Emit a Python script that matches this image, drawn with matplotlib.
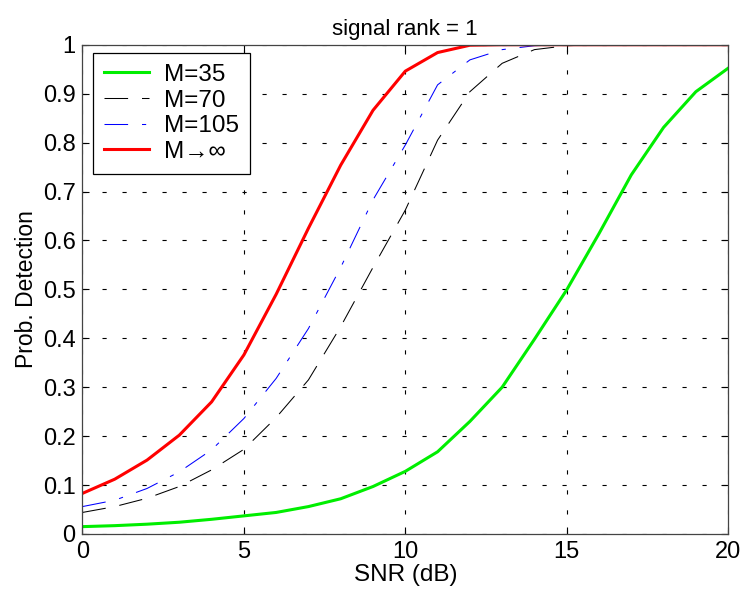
import matplotlib
matplotlib.use("Agg")
import matplotlib.pyplot as plt

plt.rcParams['font.family'] = ['Liberation Sans', 'DejaVu Sans']
plt.rcParams['lines.scale_dashes'] = False

snr = list(range(0, 21))
m35 = [0.015, 0.017, 0.020, 0.024, 0.030, 0.037, 0.044, 0.056, 0.072, 0.097, 0.128,
       0.168, 0.230, 0.300, 0.398, 0.499, 0.614, 0.734, 0.831, 0.904, 0.952]
m70 = [0.044, 0.056, 0.073, 0.097, 0.131, 0.173, 0.238, 0.315, 0.424, 0.545, 0.662,
       0.805, 0.904, 0.962, 0.990, 0.998, 1.0, 1.0, 1.0, 1.0, 1.0]
m105 = [0.056, 0.069, 0.093, 0.127, 0.172, 0.236, 0.318, 0.420, 0.545, 0.683, 0.795,
        0.918, 0.969, 0.990, 0.998, 1.0, 1.0, 1.0, 1.0, 1.0, 1.0]
minf = [0.083, 0.112, 0.151, 0.202, 0.270, 0.366, 0.490, 0.625, 0.754, 0.866, 0.946,
        0.984, 0.999, 1.0, 1.0, 1.0, 1.0, 1.0, 1.0, 1.0, 1.0]
labels = ['M=35', 'M=70', 'M=105', 'M\u2192\u221e']

fig = plt.figure(figsize=(7.43, 6.02), dpi=100)
ax = fig.add_axes([0.111, 0.113, 0.869, 0.8127])

ax.plot(snr, m35, color='#00ee00', lw=2.2, label=labels[0])
ax.plot(snr, m70, color='black', lw=0.75, dashes=(17, 10), label=labels[1])
ax.plot(snr, m105, color='blue', lw=0.75, dashes=(17, 10, 3, 10), label=labels[2])
ax.plot(snr, minf, color='red', lw=2.2, label=labels[3])

ax.set_xlim(0, 20)
ax.set_ylim(0, 1)
ax.set_xticks([0, 5, 10, 15, 20])
ax.set_yticks([i / 10 for i in range(11)])
ax.set_yticklabels(['0', '0.1', '0.2', '0.3', '0.4', '0.5', '0.6', '0.7', '0.8', '0.9', '1'])
ax.tick_params(direction='in', labelsize=17, length=5, width=0.8, top=True, right=True,
               pad=5)
ax.grid(True, color='black', lw=0.8, dashes=(3, 11.4))
for s in ax.spines.values():
    s.set_linewidth(0.9)
    s.set_color('#444444')

ax.set_title('signal rank = 1', fontsize=16, pad=7)
ax.set_xlabel('SNR (dB)', fontsize=17.5, labelpad=1)
ax.set_ylabel('Prob. Detection', fontsize=16.5, labelpad=3)

leg = ax.legend(loc='upper left', fontsize=17.5, fancybox=False, framealpha=1,
                edgecolor='black', handlelength=1.85, borderpad=0.45, labelspacing=0.15,
                handletextpad=0.62, borderaxespad=0, bbox_to_anchor=(0.016, 0.983))
leg.get_frame().set_linewidth(0.9)

fig.savefig('out.png', dpi=100)
